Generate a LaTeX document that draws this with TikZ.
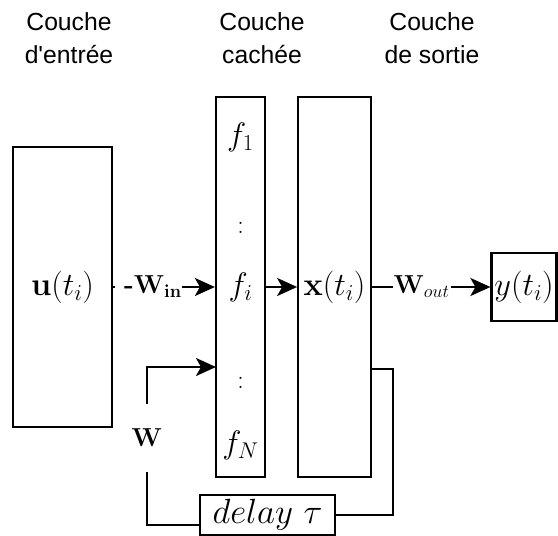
\RequirePackage{fix-cm}
\documentclass[tikz,border=0pt]{standalone}
\usepackage[no-math]{fontspec}
\newfontfamily\headfont{Liberation Sans}
\usetikzlibrary{arrows.meta}
\begin{document}
\begin{tikzpicture}[x=1pt,y=-1pt,
  box/.style={draw, line width=2.2pt, inner sep=0pt},
  arr/.style={line width=2.2pt, -{Stealth[length=20pt,width=18pt,inset=5pt]}},
  ln/.style={line width=2.2pt},
  mf/.style={font=\fontsize{32.5}{38}\selectfont},
  lf/.style={font=\fontsize{26}{30}\selectfont},
  hd/.style={font=\headfont\fontsize{24.7}{33}\selectfont, align=center}]
\useasboundingbox (0,0) rectangle (558,536);
% headings
\node[hd] (h1) at (69,38) {Couche\\d\textquotesingle entrée};
\node[hd] (h2) at (262,38) {Couche\\cachée};
\node[hd] (h3) at (432,38) {Couche\\de sortie};
% boxes
\node[box, mf, minimum width=98.5pt, minimum height=280pt] (inbox) at (62.5,287) {$\mathbf{u}(t_i)$};
\node[box, minimum width=49pt, minimum height=380pt] (fbox) at (240.5,287) {};
\node[mf] (f1) at (240.5,137) {$f_1$};
\node[lf] (d1) at (240.5,228) {:};
\node[mf] (fi) at (240.5,287) {$f_i$};
\node[lf] (d2) at (240.5,383) {:};
\node[mf] (fN) at (240.5,445) {$f_N$};
\node[box, mf, minimum width=72.5pt, minimum height=380pt] (xbox) at (334.5,287) {$\mathbf{x}(t_i)$};
\node[box, mf, minimum width=65pt, minimum height=68pt] (ybox) at (524,287) {$y(t_i)$};
\node[box, font=\fontsize{35}{40}\selectfont, minimum width=135pt, minimum height=40pt] (delay) at (267.5,515) {$delay\ \tau$};
% connectors
\draw[arr] (inbox.east) -- node[fill=white, lf, inner ysep=1pt, inner xsep=0pt, pos=0, anchor=west, xshift=1.2pt] (win) {\hspace{9pt}\textbf{-}$\mathbf{W}_{\mathbf{in}}$\hspace{1pt}} (fbox.west);
\draw[arr] (fbox.east) -- (xbox.west);
\draw[arr] (xbox.east) -- node[fill=white, lf, inner sep=1pt, pos=0.42] (wout) {$\mathbf{W}_{out}$} (ybox.west);
\coordinate (xo) at (371,369);
\coordinate (rc) at (393,369);
\draw[ln] (xo) -- (rc) |- (delay.east);
\coordinate (dl) at (200,525);
\node[lf, minimum height=67pt, inner sep=0pt] (W) at (147,438) {$\mathbf{W}$};
\draw[ln] (dl) -| (W.south);
\coordinate (fin) at (216,367);
\draw[arr] (W.north) |- (fin);
\end{tikzpicture}
\end{document}
